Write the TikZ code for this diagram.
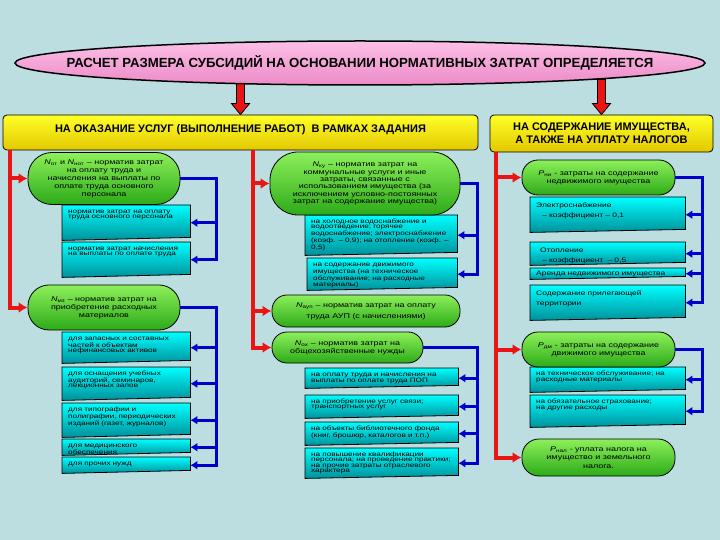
\documentclass[tikz,border=0pt]{standalone}
\usepackage{fontspec}
\setmainfont{Liberation Sans}
\newfontfamily\widefont[FakeStretch=1.3]{Liberation Sans}
\usetikzlibrary{shapes.geometric,arrows.meta,backgrounds}

\definecolor{slidebg}{RGB}{188,222,224}
\definecolor{pinkA}{RGB}{252,192,230}
\definecolor{pinkB}{RGB}{236,138,200}
\definecolor{yelA}{RGB}{255,255,40}
\definecolor{yelB}{RGB}{226,200,0}
\definecolor{grnA}{RGB}{140,240,90}
\definecolor{grnB}{RGB}{45,170,25}
\definecolor{cyA}{RGB}{0,255,255}
\definecolor{cyB}{RGB}{0,145,155}
\definecolor{redarr}{RGB}{235,20,20}
\definecolor{bluearr}{RGB}{0,0,205}

\tikzset{
    titleoval/.style={ellipse, draw=black, line width=1.5pt, top color=pinkA, bottom color=pinkB,
        minimum width=690pt, minimum height=44pt, inner sep=0pt, font=\bfseries\fontsize{13.2}{15}\selectfont},
    headbox/.style={rectangle, rounded corners=4pt, draw=black, thick, top color=yelA, bottom color=yelB,
        align=center, font=\bfseries\fontsize{11}{13}\selectfont},
    greenoval/.style={rectangle, rounded corners=#1, draw=black, thick, top color=grnA, bottom color=grnB,
        align=center, inner sep=1pt, font=\widefont\fontsize{6.9}{8}\selectfont},
    greenoval/.default=15pt,
    cyanbox/.style={anchor=north west, text width=#1, align=left, inner xsep=6pt, inner ysep=3pt,
        text height=5pt, font=\widefont\fontsize{6.3}{5.8}\selectfont},
    cyanshape/.style={draw=black, thick, top color=cyA, bottom color=cyB},
    bigarrow/.style={draw=black, thick, fill=redarr},
    redarrow/.style={draw=redarr, line width=4pt, -{Latex[length=9pt,width=11pt]}},
    bluearrow/.style={draw=bluearr, line width=3pt, -{Latex[length=7pt,width=9pt]}},
}

\begin{document}
\begin{tikzpicture}[x=1pt,y=-1pt]
    \useasboundingbox (0,0) rectangle (720,540);

    % Title and the two headings
    \node[titleoval] (title) at (360,63) {\makebox[0pt]{РАСЧЕТ РАЗМЕРА СУБСИДИЙ НА ОСНОВАНИИ НОРМАТИВНЫХ ЗАТРАТ ОПРЕДЕЛЯЕТСЯ}};
    \node[headbox, minimum width=475pt, minimum height=35pt, text height=8pt, text depth=8pt] (lefthead) at (240.5,132.5)
        {НА ОКАЗАНИЕ УСЛУГ (ВЫПОЛНЕНИЕ РАБОТ) \ В РАМКАХ ЗАДАНИЯ};
    \node[headbox, minimum width=223pt, minimum height=37pt] (righthead) at (601.5,133.5)
        {НА СОДЕРЖАНИЕ ИМУЩЕСТВА,\\А ТАКЖЕ НА УПЛАТУ НАЛОГОВ};

    % Left column
    \node[greenoval=24pt, minimum width=152pt, minimum height=52pt] (not) at (104,178.5)
        {\textit{N}\textsubscript{от} и \textit{N}\textsubscript{нот} – норматив затрат\\на оплату труда и\\начисления на выплаты по\\оплате труда основного\\персонала};
    \node[cyanbox=116pt, text depth=24pt] (notA) at (62,205) {норматив затрат на оплату\\труда основного персонала};
    \node[cyanbox=116pt, text depth=24pt] (notB) at (62,242) {норматив затрат начисления\\на выплаты по оплате труда};
    \node[greenoval=21pt, minimum width=152pt, minimum height=45pt] (nmz) at (104,307.5)
        {\textit{N}\textsubscript{мз} – норматив затрат на\\приобретение расходных\\материалов};
    \node[cyanbox=116pt, text depth=20pt] (nmzA) at (62,332) {для запасных и составных\\частей к объектам\\нефинансовых активов};
    \node[cyanbox=116pt, text depth=22pt] (nmzB) at (62,367) {для оснащения учебных\\аудиторий, семинаров,\\лекционных залов};
    \node[cyanbox=116pt, text depth=23pt] (nmzC) at (62,403) {для типографии и\\полиграфии, периодических\\изданий (газет, журналов)};
    \node[cyanbox=116pt, text depth=5pt] (nmzD) at (62,439) {для медицинского\\обеспечения};
    \node[cyanbox=116pt, text depth=5pt] (nmzE) at (62,457) {для прочих нужд};

    % Middle column
    \node[greenoval=28pt, minimum width=190pt, minimum height=63pt, font=\widefont\fontsize{6.9}{7.4}\selectfont] (ku) at (365,183.5)
        {\textit{N}\textsubscript{ку} – норматив затрат на\\коммунальные услуги и иные\\затраты, связанные с\\использованием имущества (за\\исключением условно-постоянных\\затрат на содержание имущества)};
    \node[cyanbox=140pt, text depth=29pt, font=\widefont\fontsize{6.3}{5.5}\selectfont] (kuA) at (305,215)
        {на холодное водоснабжение и\\водоотведение; горячее\\водоснабжение; электроснабжение\\(коэф. – 0,9); на отопление (коэф. –\\0,5)};
    \node[cyanbox=138pt, text depth=21pt, font=\widefont\fontsize{6.3}{5.5}\selectfont] (kuB) at (307,258)
        {на содержание движимого\\имущества (на техническое\\обслуживание; на расходные\\материалы)};
    \node[greenoval=15pt, minimum width=188pt, minimum height=32pt, font=\widefont\fontsize{6.9}{11}\selectfont] (aup) at (366,311)
        {\textit{N}\textsubscript{ауп} – норматив затрат на оплату\\труда АУП (с начислениями)};
    \node[greenoval=15pt, minimum width=151pt, minimum height=31pt] (oh) at (347.5,347.5)
        {\textit{N}\textsubscript{ох} – норматив затрат на\\общехозяйственные нужды};
    \node[cyanbox=141pt, text depth=9pt, font=\widefont\fontsize{6.3}{5.5}\selectfont] (ohA) at (305,368)
        {на оплату труда и начисления на\\выплаты по оплате труда ПОП};
    \node[cyanbox=141pt, text depth=12pt, font=\widefont\fontsize{6.3}{5.5}\selectfont] (ohB) at (305,395)
        {на приобретение услуг связи;\\транспортных услуг};
    \node[cyanbox=141pt, text depth=12pt, font=\widefont\fontsize{6.3}{5.5}\selectfont] (ohC) at (305,422)
        {на объекты библиотечного фонда\\(книг, брошюр, каталогов и т.п.)};
    \node[cyanbox=141pt, text depth=19pt, font=\widefont\fontsize{6.3}{5.5}\selectfont] (ohD) at (305,448)
        {на повышение квалификации\\персонала; на проведение практики;\\на прочие затраты отраслевого\\характера};

    % Right column
    \node[greenoval=16pt, minimum width=153pt, minimum height=35pt] (ni) at (598.5,177.5)
        {\textit{P}\textsubscript{ни} - затраты на содержание\\недвижимого имущества};
    \node[cyanbox=143pt, text height=7pt, text depth=22pt, font=\widefont\fontsize{6.5}{10}\selectfont] (niA) at (530,197)
        {Электроснабжение\\\hspace*{6pt}– коэффициент – 0,1};
    \node[cyanbox=143pt, text height=7pt, text depth=10pt, font=\widefont\fontsize{6.5}{10}\selectfont] (niB) at (530,242)
        {\hspace*{4pt}Отопление\\\hspace*{6pt}– коэффициент \ – 0,5};
    \node[cyanbox=143pt, inner ysep=1.5pt, text height=6pt, text depth=2pt, font=\widefont\fontsize{6.5}{10}\selectfont] (niC) at (530,268)
        {Аренда недвижимого имущества};
    \node[cyanbox=143pt, text height=7pt, text depth=22pt, font=\widefont\fontsize{6.5}{10}\selectfont] (niD) at (530,285)
        {Содержание прилегающей\\территории};
    \node[greenoval=16pt, minimum width=153pt, minimum height=35pt] (dm) at (598.5,349.5)
        {\textit{P}\textsubscript{дм} - затраты на содержание\\движимого имущества};
    \node[cyanbox=143pt, text depth=14pt] (dmA) at (530,367) {на техническое обслуживание; на\\расходные материалы};
    \node[cyanbox=143pt, text depth=21pt] (dmB) at (530,395) {на обязательное страхование;\\на другие расходы};
    \node[greenoval=17pt, minimum width=153pt, minimum height=37pt, font=\widefont\fontsize{6.9}{8.5}\selectfont] (nal) at (598.5,457.5)
        {\textit{P}\textsubscript{нал} - уплата налога на\\имущество и земельного\\налога.};

    % Trunk positions
    \coordinate (rL) at (10,150);
    \coordinate (rM) at (253,150);
    \coordinate (rR) at (496,152);
    \coordinate (bL) at (216,0);
    \coordinate (bM) at (477,0);
    \coordinate (bR) at (702,0);

    % Red feeds
    \draw[redarrow] (rL) |- (nmz.west);
    \draw[redarrow] (rL |- not.west) -- (not.west);
    \draw[redarrow] (rM) |- (oh.west);
    \draw[redarrow] (rM |- ku.west) -- (ku.west);
    \draw[redarrow] (rM |- aup.west) -- (aup.west);
    \draw[redarrow] (rR) |- (nal.west);
    \draw[redarrow] (rR |- ni.west) -- (ni.west);
    \draw[redarrow] (rR |- dm.west) -- (dm.west);

    % Blue branches
    \draw[bluearrow] (not.east) -| (bL |- notB.east) -- (notB.east);
    \draw[bluearrow] (bL |- notA.east) -- (notA.east);
    \draw[bluearrow] (nmz.east) -| (bL |- nmzE.east) -- (nmzE.east);
    \foreach \b in {nmzA,nmzB,nmzC,nmzD}
        \draw[bluearrow] (bL |- \b.east) -- (\b.east);
    \draw[bluearrow] (ku.east) -| (bM |- kuB.east) -- (kuB.east);
    \draw[bluearrow] (bM |- kuA.east) -- (kuA.east);
    \draw[bluearrow] (oh.east) -| (bM |- ohD.east) -- (ohD.east);
    \foreach \b in {ohA,ohB,ohC}
        \draw[bluearrow] (bM |- \b.east) -- (\b.east);
    \draw[bluearrow] (ni.east) -| (bR |- niD.east) -- (niD.east);
    \foreach \b in {niA,niB,niC}
        \draw[bluearrow] (bR |- \b.east) -- (\b.east);
    \draw[bluearrow] (dm.east) -| (bR |- dmB.east) -- (dmB.east);
    \draw[bluearrow] (bR |- dmA.east) -- (dmA.east);

    \begin{scope}[on background layer]
        \fill[slidebg] (0,0) rectangle (720,540);
        % block arrows from the title
        \foreach \h in {lefthead,righthead}
            \draw[bigarrow] (\h.north) ++(-4,-35) -- ++(8,0) -- ++(0,24) -- ++(5,0) -- ++(-9,11) -- ++(-9,-11) -- ++(5,0) -- cycle;
        % cyan boxes, lower edge sloping
        \foreach \b in {notA,notB,nmzA,nmzB,nmzC,nmzD,nmzE,kuA,kuB,ohA,ohB,ohC,ohD,niA,niB,niC,niD,dmA,dmB}
            \draw[cyanshape] (\b.north west) -- (\b.north east) -- ([yshift=3pt]\b.south east) -- (\b.south west) -- cycle;
    \end{scope}
\end{tikzpicture}
\end{document}
